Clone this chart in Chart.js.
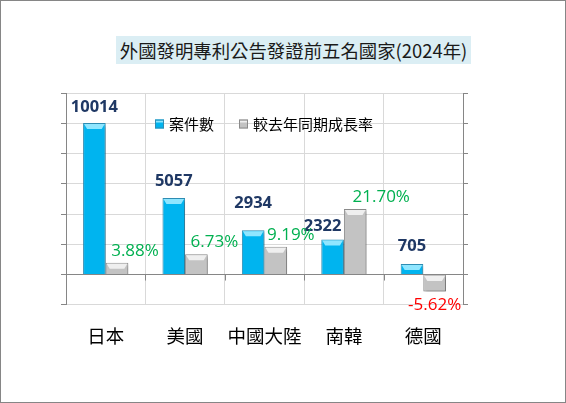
<!DOCTYPE html>
<html>
<head>
<meta charset="utf-8">
<title>外國發明專利公告發證前五名國家(2024年)</title>
<script src="https://cdn.jsdelivr.net/npm/chart.js@4.4.1/dist/chart.umd.min.js"></script>
<style>
  html, body { margin: 0; padding: 0; background: #fff; }
  #wrap { position: relative; width: 566px; height: 403px; overflow: hidden; }
  #frame { position: absolute; left: 0; top: 0; width: 566px; height: 403px; box-sizing: border-box;
           border: 1px solid #868686; pointer-events: none; }
  #title { position: absolute; left: 116px; top: 36px; width: 355px; height: 28px; line-height: 28px;
           background: #dbeef4; text-align: center; white-space: nowrap; color: #1a1a1a;
           font-family: "Noto Sans CJK TC", sans-serif; font-size: 18.4px; }
  canvas { position: absolute; left: 0; top: 0; }
</style>
</head>
<body>
<div id="wrap">
  <canvas id="patent-chart" width="566" height="403"></canvas>
  <div id="title">外國發明專利公告發證前五名國家(2024年)</div>
  <div id="frame"></div>
</div>
<script>
// categories and series
var countries = ['日本', '美國', '中國大陸', '南韓', '德國'];
var caseCounts = [10014, 5057, 2934, 2322, 705];
var growthRates = [3.88, 6.73, 9.19, 21.70, -5.62];
var seriesNames = ['案件數', '較去年同期成長率'];

// axis ranges (tick labels are hidden in the original)
var countMin = -2000, countMax = 12000, countStep = 2000;
var rateMin = -10, rateMax = 60, rateStep = 10;

// the data labels were nudged by hand in the original
var countLabelDx = [0, 0, 0, -10, 0];
var countLabelDy = [16, 17, 27, 13, 18];
var rateLabelDx = [18, 18, 15, 26, 0];

var CJK = '"Noto Sans CJK TC", sans-serif';
var LATIN = '"Open Sans", sans-serif';
Chart.defaults.font.family = CJK;

var blue = '#00b4ef', blueEdge = '#2f8db3', blueLight = '#8fe6ff';
var grey = '#c3c3c3', greyEdge = '#8a8a8a', greyLight = '#efefef';

// shadow under the bars, like the excel bevel style
var barShadow = {
  id: 'barShadow',
  beforeDatasetsDraw: function (chart) {
    var ctx = chart.ctx;
    ctx.save();
    ctx.shadowColor = 'rgba(0,0,0,0.28)';
    ctx.shadowBlur = 3;
    ctx.shadowOffsetX = 2;
    ctx.shadowOffsetY = 2;
  },
  afterDatasetsDraw: function (chart) {
    chart.ctx.restore();
  }
};

// light top face on every bar
var barBevel = {
  id: 'barBevel',
  afterDatasetsDraw: function (chart) {
    var ctx = chart.ctx;
    ctx.save();
    [blueLight, greyLight].forEach(function (light, d) {
      chart.getDatasetMeta(d).data.forEach(function (bar) {
        var left = bar.x - bar.width / 2 + 1, right = bar.x + bar.width / 2 - 1;
        var top = Math.min(bar.y, bar.base) + 1;
        var h = Math.min(5, Math.abs(bar.base - bar.y) - 2);
        if (h <= 0) return;
        ctx.fillStyle = light;
        ctx.beginPath();
        ctx.moveTo(left, top);
        ctx.lineTo(right, top);
        ctx.lineTo(right - 3, top + h);
        ctx.lineTo(left + 3, top + h);
        ctx.closePath();
        ctx.fill();
      });
    });
    ctx.restore();
  }
};

// value labels
var barLabels = {
  id: 'barLabels',
  afterDatasetsDraw: function (chart) {
    var ctx = chart.ctx;
    ctx.save();
    ctx.textAlign = 'center';
    ctx.textBaseline = 'middle';
    chart.getDatasetMeta(0).data.forEach(function (bar, i) {
      ctx.font = 'bold 16.5px ' + LATIN;
      ctx.fillStyle = '#1f3864';
      ctx.fillText(String(caseCounts[i]), bar.x + countLabelDx[i], bar.y - countLabelDy[i]);
    });
    chart.getDatasetMeta(1).data.forEach(function (bar, i) {
      var v = growthRates[i];
      ctx.font = '17px ' + LATIN;
      ctx.fillStyle = v < 0 ? '#ff0000' : '#00b050';
      var y = v < 0 ? bar.y + 14 : bar.y - 12;
      ctx.fillText(v.toFixed(2) + '%', bar.x + rateLabelDx[i], y);
    });
    ctx.restore();
  }
};

// small tick marks under the zero line, between categories
var zeroTicks = {
  id: 'zeroTicks',
  afterDatasetsDraw: function (chart) {
    var ctx = chart.ctx, area = chart.chartArea;
    var y0 = chart.scales.y.getPixelForValue(0);
    var step = (area.right - area.left) / countries.length;
    ctx.save();
    ctx.strokeStyle = '#868686';
    ctx.lineWidth = 1;
    ctx.beginPath();
    for (var i = 1; i < countries.length; i++) {
      var x = Math.round(area.left + step * i) + 0.5;
      ctx.moveTo(x, y0);
      ctx.lineTo(x, y0 + 6);
    }
    ctx.stroke();
    ctx.restore();
  }
};

// legend sits inside the plot area in the original
var innerLegend = {
  id: 'innerLegend',
  afterDraw: function (chart) {
    var ctx = chart.ctx, area = chart.chartArea;
    var box = 9, gap = 5, itemGap = 25;
    ctx.save();
    ctx.font = '15px ' + CJK;
    ctx.textBaseline = 'middle';
    var widths = seriesNames.map(function (n) { return ctx.measureText(n).width; });
    var total = widths[0] + widths[1] + 2 * (box + gap) + itemGap;
    var x = Math.round((area.left + area.right) / 2 - total / 2);
    var y = area.top + 31;
    [[blue, blueLight, blueEdge], [grey, greyLight, greyEdge]].forEach(function (c, i) {
      ctx.fillStyle = c[0];
      ctx.fillRect(x, y - box / 2, box, box);
      ctx.fillStyle = c[1];
      ctx.fillRect(x + 1, y - box / 2 + 1, box - 2, 2);
      ctx.strokeStyle = c[2];
      ctx.strokeRect(x + 0.5, y - box / 2 + 0.5, box - 1, box - 1);
      ctx.fillStyle = '#000';
      ctx.fillText(seriesNames[i], x + box + gap, y);
      x += box + gap + widths[i] + itemGap;
    });
    ctx.restore();
  }
};

new Chart(document.getElementById('patent-chart'), {
  type: 'bar',
  data: {
    labels: countries,
    datasets: [{
      label: seriesNames[0],
      data: caseCounts,
      yAxisID: 'y',
      backgroundColor: blue,
      borderColor: blueEdge,
      borderWidth: 1,
      categoryPercentage: 0.57,
      barPercentage: 1
    }, {
      label: seriesNames[1],
      data: growthRates,
      yAxisID: 'y1',
      backgroundColor: grey,
      borderColor: greyEdge,
      borderWidth: 1,
      categoryPercentage: 0.57,
      barPercentage: 1
    }]
  },
  options: {
    responsive: false,
    devicePixelRatio: 1,
    animation: false,
    layout: { padding: { left: 61, right: 98, top: 93, bottom: 36 } },
    plugins: {
      legend: { display: false },
      title: { display: false },
      tooltip: { enabled: false }
    },
    scales: {
      x: {
        grid: { color: '#d9d9d9', drawTicks: false, offset: true },
        border: { color: '#d9d9d9' },
        ticks: { padding: 20, color: '#000', maxRotation: 0, minRotation: 0, autoSkip: false,
                 font: { size: 18.5, family: CJK } }
      },
      y: {
        position: 'left',
        min: countMin,
        max: countMax,
        ticks: { stepSize: countStep, display: false },
        grid: {
          color: function (c) { return c.tick && c.tick.value === 0 ? '#868686' : '#d9d9d9'; },
          tickColor: '#868686',
          tickLength: 5
        },
        border: { color: '#868686' }
      },
      y1: {
        position: 'right',
        min: rateMin,
        max: rateMax,
        ticks: { stepSize: rateStep, display: false },
        grid: { drawOnChartArea: false, tickColor: '#868686', tickLength: 5 },
        border: { color: '#868686' }
      }
    }
  },
  plugins: [barShadow, barBevel, zeroTicks, barLabels, innerLegend]
});
</script>
</body>
</html>
